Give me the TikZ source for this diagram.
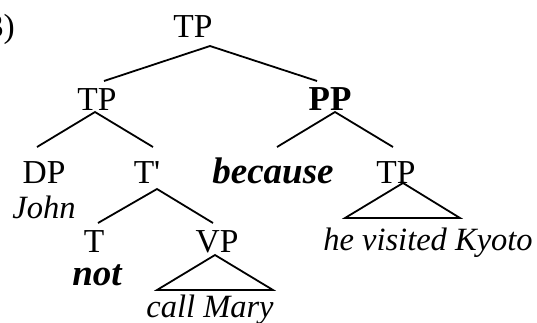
\documentclass[tikz,border=0pt]{standalone}
\usepackage{fontspec}
\setmainfont{Liberation Serif}
\begin{document}
\begin{tikzpicture}[x=1pt,y=-1pt,
  lbl/.style={anchor=base,inner sep=0pt,font=\fontsize{33.5}{40}\selectfont},
  bl/.style={anchor=base,inner sep=0pt,font=\fontsize{35}{40}\selectfont\bfseries},
  wd/.style={anchor=base,inner sep=0pt,font=\fontsize{32.5}{40}\selectfont\itshape},
  bwd/.style={anchor=base,inner sep=0pt,font=\fontsize{37}{40}\selectfont\bfseries\itshape},
  br/.style={line width=1.8pt,line join=miter}]
\useasboundingbox (0,0) rectangle (537,322);
\node[lbl,anchor=base east] (num) at (15,37) {(3)};
\node[lbl] (tp) at (193,37) {TP};
\node[lbl] (tpl) at (97,110) {TP};
\node[bl] (pp) at (330,110) {PP};
\node[lbl] (dp) at (44,183) {DP};
\node[lbl] (tbar) at (147,183) {T\textquotesingle};
\node[bwd] (because) at (273,183) {because};
\node[lbl] (tpr) at (396,183) {TP};
\node[wd] (john) at (44,218) {John};
\node[lbl] (t) at (94,252) {T};
\node[lbl] (vp) at (217,252) {VP};
\node[bwd] (not) at (97,285) {not};
\node[wd] (cm) at (210,317) {call Mary};
\node[wd] (hvk) at (428,250) {he visited Kyoto};
% branch points
\coordinate (a0) at (210,46);
\coordinate (a0l) at (104,81);
\coordinate (a0r) at (317,81);
\coordinate (a1) at (95,112);
\coordinate (a1l) at (37,147);
\coordinate (a1r) at (153,147);
\coordinate (a2) at (335,112);
\coordinate (a2l) at (277,147);
\coordinate (a2r) at (393,147);
\coordinate (a3) at (157,189);
\coordinate (a3l) at (98,223);
\coordinate (a3r) at (213,223);
\coordinate (v0) at (215,255);
\coordinate (v1) at (157,290);
\coordinate (v2) at (273,290);
\coordinate (k0) at (403,183);
\coordinate (k1) at (345,218);
\coordinate (k2) at (460,218);
\draw[br] (a0l) -- (a0) -- (a0r);
\draw[br] (a1l) -- (a1) -- (a1r);
\draw[br] (a2l) -- (a2) -- (a2r);
\draw[br] (a3l) -- (a3) -- (a3r);
\draw[br] (v0) -- (v1) -- (v2) -- cycle;
\draw[br] (k0) -- (k1) -- (k2) -- cycle;
\end{tikzpicture}
\end{document}
